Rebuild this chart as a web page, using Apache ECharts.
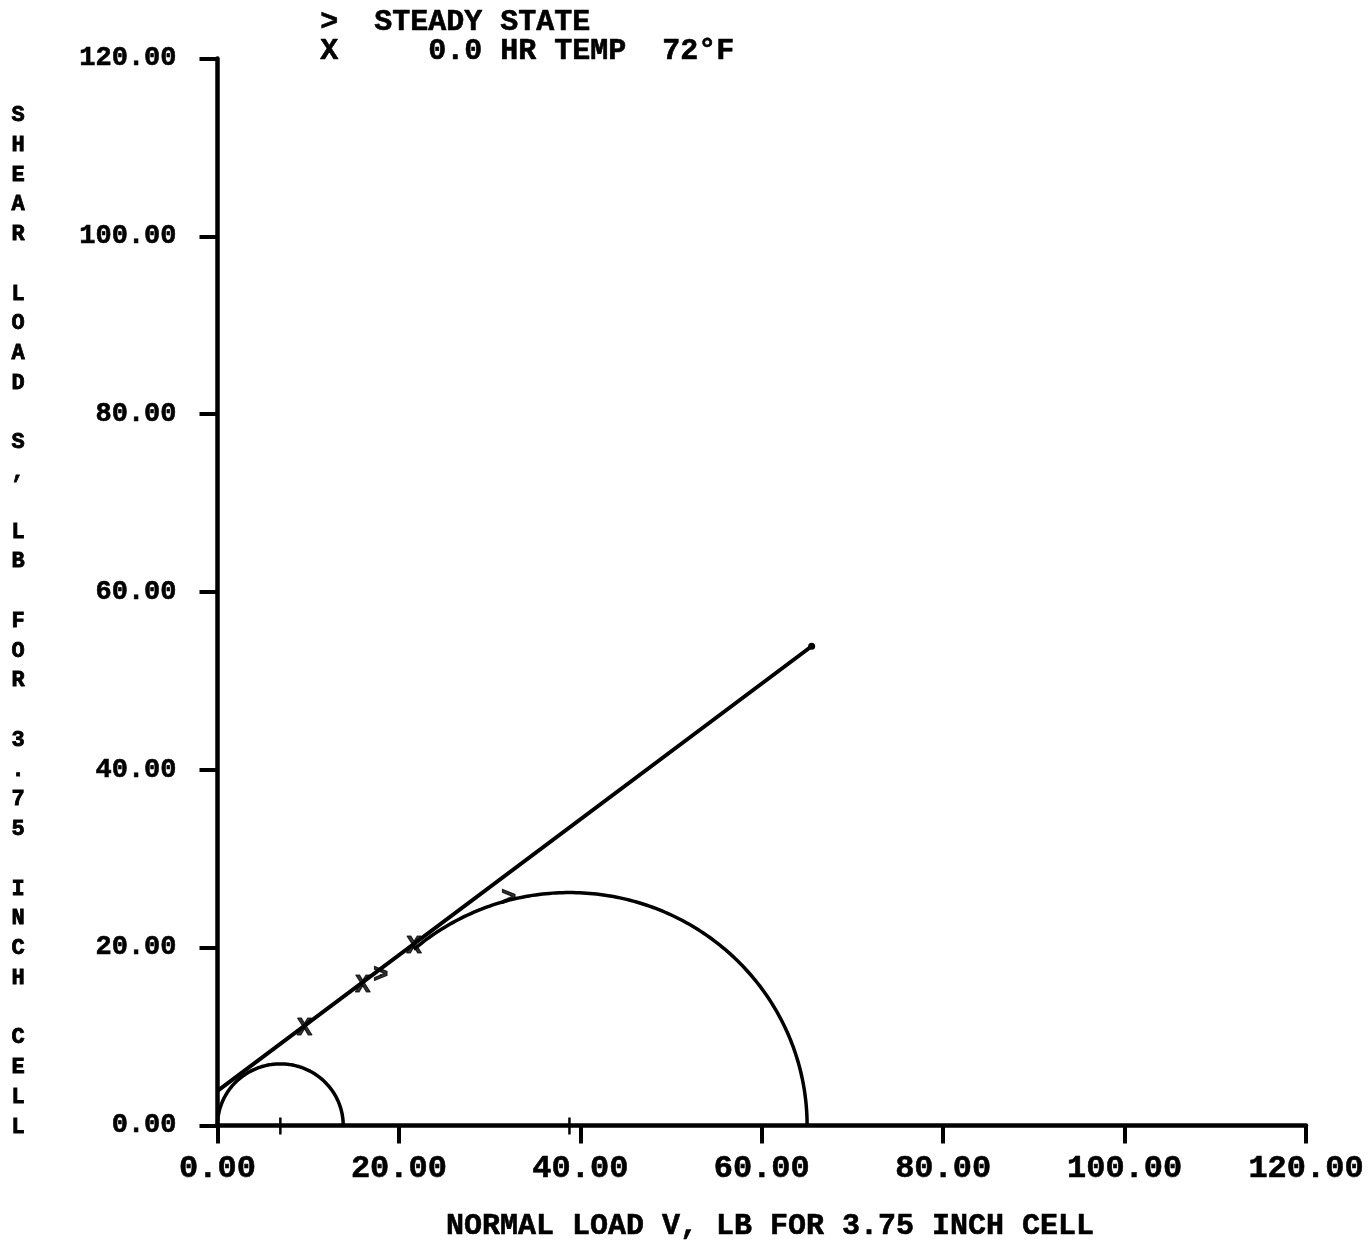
<!DOCTYPE html>
<html>
<head>
<meta charset="utf-8">
<script src="https://cdn.jsdelivr.net/npm/echarts@6/dist/echarts.min.js"></script>
<style>
html,body{margin:0;padding:0;background:#fff;}
#chart{width:1368px;height:1240px;}
</style>
</head>
<body>
<div id="chart"></div>
<script>
// ---- data ----
const xTickValues = [0, 20, 40, 60, 80, 100, 120];
const yTickValues = [0, 20, 40, 60, 80, 100, 120];
// failure envelope (straight line) end points [V, S]
const envelopeLine = [[0, 3.9], [65.5, 53.9]];
// Mohr circles: [sigma3, sigma1, V where the drawn arc starts]
const mohrCircles = [
  [0, 13.86, 0],
  [12.6, 65.0, 21.65]
];
// "X" test points (0.0 HR TEMP 72°F)
const testPoints = [[9.6, 10.9], [16.0, 15.7], [21.65, 20.06]];
// ">" steady state points
const steadyPoints = [[18.0, 16.9], [32.1, 25.5]];
const legendLines = ['>  STEADY STATE', 'X     0.0 HR TEMP  72\u00B0F'];
const xAxisTitle = 'NORMAL LOAD V, LB FOR 3.75 INCH CELL';
const yAxisTitle = 'SHEAR LOAD S, LB FOR 3.75 INCH CELL';

const FONT = '"Liberation Mono", "DejaVu Sans Mono", monospace';
const chart = echarts.init(document.getElementById('chart'));

const axisCommon = {
  type: 'value', min: 0, max: 120, interval: 20,
  axisLine: { show: true, onZero: false, lineStyle: { color: '#000', width: 4.5 } },
  axisTick: { show: true, length: 18, lineStyle: { color: '#000', width: 4 } },
  splitLine: { show: false },
  axisLabel: {
    color: '#000', fontFamily: FONT, fontWeight: 'bold',
    textBorderColor: '#000', textBorderWidth: 0.6,
    formatter: v => v.toFixed(2)
  }
};

const markLabel = {
  show: true, position: 'inside', color: '#000',
  fontFamily: FONT, fontWeight: 'bold', fontSize: 25,
  textBorderColor: '#000', textBorderWidth: 1.2
};

chart.setOption({
  animation: false,
  backgroundColor: '#fff',
  grid: { left: 217.5, right: 62, top: 58.5, bottom: 114.5, containLabel: false },
  xAxis: Object.assign({}, axisCommon, {
    axisLabel: Object.assign({}, axisCommon.axisLabel, { fontSize: 32, margin: 27 })
  }),
  yAxis: Object.assign({}, axisCommon, {
    axisLabel: Object.assign({}, axisCommon.axisLabel, { fontSize: 27, margin: 41 })
  }),
  graphic: [
    {
      type: 'text', left: 320, top: 7,
      style: { text: legendLines.join('\n'), font: 'bold 30px ' + FONT, fill: '#000',
               stroke: '#000', lineWidth: 0.6, lineHeight: 29 }
    },
    {
      type: 'text', x: 770, y: 1226,
      style: { text: xAxisTitle, font: 'bold 30px ' + FONT, fill: '#000',
               stroke: '#000', lineWidth: 0.6, align: 'center', verticalAlign: 'middle' }
    },
    {
      type: 'text', x: 18, y: 100.6,
      style: { text: yAxisTitle.split('').join('\n'), font: 'bold 22px ' + FONT, fill: '#000',
               stroke: '#000', lineWidth: 0.8,
               align: 'center', verticalAlign: 'top', lineHeight: 29.75 }
    }
  ],
  series: [
    {
      type: 'line', data: envelopeLine, z: 3,
      lineStyle: { color: '#000', width: 4 },
      symbol: 'circle',
      symbolSize: (v, p) => p.dataIndex === envelopeLine.length - 1 ? 7 : 0,
      itemStyle: { color: '#000' }
    },
    {
      type: 'custom', data: mohrCircles, clip: false, z: 3,
      renderItem: function (params, api) {
        const s3 = api.value(0), s1 = api.value(1), from = api.value(2);
        const c = (s1 + s3) / 2, r = (s1 - s3) / 2;
        const o = api.coord([c, 0]);
        const rx = api.size([r, 0])[0];
        const ry = api.size([0, r])[1];
        const t0 = Math.acos(Math.max(-1, Math.min(1, (from - c) / r)));
        const pts = [];
        const n = 160;
        for (let i = 0; i <= n; i++) {
          const t = t0 * (1 - i / n);
          pts.push([o[0] + rx * Math.cos(t), o[1] - ry * Math.sin(t)]);
        }
        return {
          type: 'group',
          children: [
            { type: 'polyline', shape: { points: pts },
              style: { stroke: '#000', lineWidth: 3.5, fill: null } },
            { type: 'line', shape: { x1: o[0], y1: o[1] - 8, x2: o[0], y2: o[1] + 9 },
              style: { stroke: '#000', lineWidth: 2.5 } }
          ]
        };
      }
    },
    {
      type: 'scatter', data: testPoints, z: 5,
      symbolSize: 2, itemStyle: { color: '#000' },
      label: Object.assign({}, markLabel, { formatter: 'X' })
    },
    {
      type: 'scatter', data: steadyPoints, z: 5,
      symbolSize: 2, itemStyle: { color: '#000' },
      label: Object.assign({}, markLabel, { formatter: '>' })
    }
  ]
});
</script>
</body>
</html>
